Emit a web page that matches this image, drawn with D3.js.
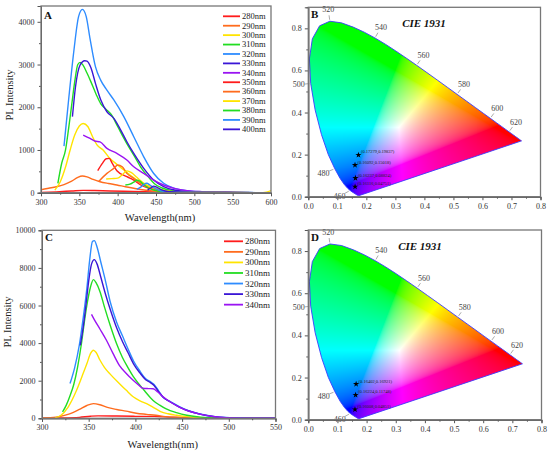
<!DOCTYPE html>
<html>
<head>
<meta charset="utf-8">
<script src="https://cdn.jsdelivr.net/npm/d3@7"></script>
<style>
  body { margin: 0; background: #fff; }
  svg { display: block; }
  text { font-family: "Liberation Serif", "Times New Roman", serif; }
</style>
</head>
<body>
<svg id="chart" width="550" height="454"></svg>
<script>
// ---- panel A : emission spectra, excitation 280..400 nm ----
const excA = ["280nm","290nm","300nm","310nm","320nm","330nm","340nm","350nm","360nm","370nm","380nm","390nm","400nm"];
const colA = ["#ff1c1c","#ff6c1e","#ffe400","#22dd22","#2e8cff","#3a16d6","#9a14f2","#ff1c1c","#ff6c1e","#ffe400","#22dd22","#2e8cff","#3a16d6"];
const A280 = [[300,5],[320,20],[340,40],[355,55],[370,50],[390,40],[420,30],[450,20],[480,10],[520,3],[600,0]];
const A290 = [[300,70],[310,105],[320,140],[330,190],[340,270],[348,360],[354,390],[360,370],[368,310],[377,257],[388,215],[399,180],[410,140],[421,103],[432,70],[443,47],[460,25],[490,8],[530,2],[600,0]];
const A300 = [[318,60],[325,250],[332,600],[338,1000],[344,1350],[350,1560],[355,1620],[361,1550],[367,1320],[373,1120],[381,1000],[390,800],[400,650],[408,530],[417,400],[425,297],[434,200],[443,140],[454,80],[465,47],[490,15],[520,5],[585,0],[594,12],[600,50]];
const A310 = [[322,220],[327,690],[332,1000],[336,1500],[340,2050],[344,2600],[348,3000],[351,3050],[355,2980],[360,2800],[365,2600],[372,2300],[378,2080],[385,1950],[392,1820],[400,1550],[412,1150],[422,850],[430,600],[440,370],[448,210],[458,110],[470,50],[500,12],[550,3],[600,0]];
const A320 = [[330,1090],[336,2170],[343,3340],[349,4120],[354,4290],[359,4120],[364,3600],[371,2950],[378,2630],[386,2400],[395,2170],[408,1780],[421,1310],[434,840],[447,450],[460,220],[474,100],[491,47],[510,22],[550,8],[600,0]];
const A330 = [[341,1780],[345,2480],[351,2990],[357,3090],[360,3080],[365,2930],[371,2560],[378,2170],[386,1895],[395,1740],[404,1466],[412,1193],[421,920],[434,570],[447,296],[460,140],[474,62],[500,20],[550,6],[600,0]];
const A340 = [[355,1350],[364,1270],[370,1210],[377,1190],[386,1037],[399,920],[412,764],[421,608],[434,452],[447,296],[460,180],[474,100],[491,47],[510,25],[550,8],[600,0]];
const A350 = [[374,515],[380,686],[385,795],[389,803],[393,686],[399,515],[412,375],[421,296],[430,180],[441,100],[452,62],[465,23],[490,8],[600,0]];
const A360 = [[375,257],[386,452],[395,569],[400,647],[406,608],[412,452],[421,335],[430,218],[441,125],[452,62],[465,23],[490,8],[600,0]];
const A370 = [[385,320],[392,330],[400,340],[406,420],[412,510],[418,470],[425,360],[432,250],[440,160],[450,95],[460,55],[480,20],[520,5],[600,0]];
const A380 = [[410,180],[416,200],[421,250],[425,290],[429,270],[434,190],[440,110],[447,60],[460,25],[490,8],[600,0]];
const A390 = [[425,80],[430,130],[434,190],[438,220],[442,180],[447,120],[452,70],[460,30],[480,10],[600,0]];
const A400 = [[439,60],[443,110],[447,155],[451,130],[456,80],[462,40],[475,15],[500,5],[600,0]];
const seriesA = [A280,A290,A300,A310,A320,A330,A340,A350,A360,A370,A380,A390,A400];

// ---- panel C : emission spectra, excitation 280..340 nm ----
const excC = ["280nm","290nm","300nm","310nm","320nm","330nm","340nm"];
const colC = ["#ff1c1c","#ff6c1e","#ffe400","#22dd22","#2e8cff","#3a16d6","#9a14f2"];
const C280 = [[300,5],[320,15],[340,50],[352,110],[360,130],[380,120],[400,105],[420,100],[440,60],[460,30],[480,15],[500,8],[550,0]];
const C290 = [[300,20],[315,60],[325,170],[333,300],[340,470],[348,680],[355,780],[362,720],[370,580],[380,470],[390,380],[401,270],[412,210],[422,160],[432,90],[445,40],[465,15],[500,5],[550,0]];
const C300 = [[314,20],[320,150],[328,600],[337,1490],[343,2250],[348,2900],[352,3450],[355,3620],[358,3500],[362,3100],[367,2700],[373,2350],[383,1840],[390,1500],[398,1130],[405,930],[412,780],[420,560],[427,360],[435,240],[444,160],[455,90],[469,35],[490,12],[520,3],[550,0]];
const C310 = [[322,340],[326,700],[330,1200],[334,1800],[338,2700],[342,3900],[345,5000],[348,6000],[352,7000],[355,7375],[358,7200],[362,6750],[367,5900],[373,4950],[380,3950],[386,3250],[392,2700],[398,2200],[405,1750],[410,1450],[419,950],[426,700],[433,500],[444,300],[455,160],[470,60],[490,20],[520,5],[550,0]];
const C320 = [[330,1850],[335,2700],[340,3900],[344,5300],[348,6900],[351,8400],[354,9400],[356,9450],[359,9100],[363,8300],[368,7300],[373,6200],[380,5100],[386,4400],[392,3700],[398,3050],[405,2500],[411,2100],[416,1950],[420,1800],[425,1450],[430,1100],[437,900],[447,620],[457,400],[469,230],[483,100],[497,40],[520,10],[550,0]];
const C330 = [[341,3880],[344,4800],[347,6000],[350,7300],[353,8200],[356,8440],[359,8200],[363,7500],[368,6600],[373,5800],[380,4800],[386,4100],[392,3500],[398,2900],[405,2400],[411,2050],[416,1900],[420,1750],[425,1400],[430,1100],[437,880],[447,600],[457,390],[469,220],[483,95],[497,35],[520,8],[550,0]];
const C340 = [[353,5530],[356,5250],[362,4750],[369,4150],[376,3450],[383,2800],[390,2400],[397,2050],[404,1750],[408,1600],[414,1580],[419,1570],[424,1400],[430,1130],[437,880],[447,600],[457,390],[469,220],[483,95],[497,35],[520,8],[550,0]];
const seriesC = [C280,C290,C300,C310,C320,C330,C340];

// ---- CIE 1931 spectral locus [nm, x, y] ----
const locus = [
  [380,0.1741,0.0050],[385,0.1740,0.0050],[390,0.1738,0.0049],[395,0.1736,0.0049],[400,0.1733,0.0048],
  [405,0.1730,0.0048],[410,0.1726,0.0048],[415,0.1721,0.0048],[420,0.1714,0.0051],[425,0.1703,0.0058],
  [430,0.1689,0.0069],[435,0.1669,0.0086],[440,0.1644,0.0109],[445,0.1611,0.0138],[450,0.1566,0.0177],
  [455,0.1510,0.0227],[460,0.1440,0.0297],[465,0.1355,0.0399],[470,0.1241,0.0578],[475,0.1096,0.0868],
  [480,0.0913,0.1327],[485,0.0687,0.2007],[490,0.0454,0.2950],[495,0.0235,0.4127],[500,0.0082,0.5384],
  [505,0.0039,0.6548],[510,0.0139,0.7502],[515,0.0389,0.8120],[520,0.0743,0.8338],[525,0.1142,0.8262],
  [530,0.1547,0.8059],[535,0.1929,0.7816],[540,0.2296,0.7543],[545,0.2658,0.7243],[550,0.3016,0.6923],
  [555,0.3373,0.6589],[560,0.3731,0.6245],[565,0.4087,0.5896],[570,0.4441,0.5547],[575,0.4788,0.5202],
  [580,0.5125,0.4866],[585,0.5448,0.4544],[590,0.5752,0.4242],[595,0.6029,0.3965],[600,0.6270,0.3725],
  [605,0.6482,0.3514],[610,0.6658,0.3340],[615,0.6801,0.3197],[620,0.6915,0.3083],[625,0.7006,0.2993],
  [630,0.7079,0.2920],[635,0.7140,0.2859],[640,0.7190,0.2809],[645,0.7230,0.2770],[650,0.7260,0.2740],
  [655,0.7283,0.2717],[660,0.7300,0.2700],[665,0.7311,0.2689],[670,0.7320,0.2680],[675,0.7327,0.2673],
  [680,0.7334,0.2666],[685,0.7340,0.2660],[690,0.7344,0.2656],[695,0.7346,0.2654],[700,0.7347,0.2653]
];
const locusMarks = [460,480,500,520,540,560,580,600,620];
const cieB = [[0.17279,0.19837],[0.16092,0.15018],[0.16237,0.08824],[0.16116,0.04751]];
const cieBLabels = ["(0.17279,0.19837)","(0.16092,0.15018)","(0.16237,0.08824)","(0.16116,0.04751)"];
const cieD = [[0.16402,0.16921],[0.16224,0.11748],[0.16008,0.04851]];
const cieDLabels = ["(0.16402,0.16921)","(0.16224,0.11748)","(0.16008,0.04851)"];

const svg = d3.select("#chart");
const defs = svg.append("defs");

function styleAxis(g) {
  g.selectAll(".domain").attr("stroke", "#555").attr("stroke-width", 1);
  g.selectAll(".tick line").attr("stroke", "#555");
  g.selectAll("text").attr("font-size", 8).attr("fill", "#333")
    .attr("font-family", '"Liberation Serif", serif');
}

function axes(x, y, xMajor, xMinor, yMajor, yMinor, xFmt, yFmt) {
  const by = y.range()[0], lx = x.range()[0];
  svg.append("g").attr("transform", `translate(0,${by})`)
    .call(d3.axisBottom(x).tickValues(xMinor).tickSize(2).tickFormat("")).call(styleAxis);
  svg.append("g").attr("transform", `translate(0,${by})`)
    .call(d3.axisBottom(x).tickValues(xMajor).tickSize(3.5).tickPadding(3).tickFormat(xFmt)).call(styleAxis);
  svg.append("g").attr("transform", `translate(${lx},0)`)
    .call(d3.axisLeft(y).tickValues(yMinor).tickSize(2).tickFormat("")).call(styleAxis);
  svg.append("g").attr("transform", `translate(${lx},0)`)
    .call(d3.axisLeft(y).tickValues(yMajor).tickSize(3.5).tickPadding(3).tickFormat(yFmt)).call(styleAxis);
}

function frame(x, y) {
  svg.append("rect")
    .attr("x", x.range()[0]).attr("y", y.range()[1])
    .attr("width", x.range()[1] - x.range()[0]).attr("height", y.range()[0] - y.range()[1])
    .attr("fill", "none").attr("stroke", "#777").attr("stroke-width", 1.3);
}

function letter(t, px, py) {
  svg.append("text").attr("x", px).attr("y", py).attr("font-size", 11).attr("font-weight", "bold")
    .attr("fill", "#111").text(t);
}

function spectra(id, x, y, series, cols, labels, leg, xMajor, xMinor, yMajor, yMinor, titles) {
  defs.append("clipPath").attr("id", id).append("rect")
    .attr("x", x.range()[0]).attr("y", y.range()[1])
    .attr("width", x.range()[1] - x.range()[0]).attr("height", y.range()[0] - y.range()[1]);
  const line = d3.line().x(d => x(d[0])).y(d => y(d[1])).curve(d3.curveMonotoneX);
  const g = svg.append("g").attr("clip-path", `url(#${id})`);
  g.selectAll("path").data(series).join("path")
    .attr("d", line).attr("fill", "none")
    .attr("stroke", (d, i) => cols[i]).attr("stroke-width", 1.4);
  axes(x, y, xMajor, xMinor, yMajor, yMinor, d3.format("d"), d3.format("d"));
  frame(x, y);
  const lg = svg.append("g");
  labels.forEach((t, i) => {
    const yy = leg.y + i * leg.dy;
    lg.append("line").attr("x1", leg.x).attr("x2", leg.x + leg.len).attr("y1", yy).attr("y2", yy)
      .attr("stroke", cols[i]).attr("stroke-width", 1.8);
    lg.append("text").attr("x", leg.x + leg.len + 2).attr("y", yy).attr("dy", "0.33em")
      .attr("font-size", leg.fs).attr("fill", "#222").text(t);
  });
  svg.append("text").attr("transform", `translate(${titles.yx},${titles.yy}) rotate(-90)`)
    .attr("text-anchor", "middle").attr("font-size", 10.5).attr("fill", "#222").text("PL Intensity");
  svg.append("text").attr("x", (x.range()[0] + x.range()[1]) / 2 + 4).attr("y", titles.xy)
    .attr("text-anchor", "middle").attr("font-size", 10.5).attr("fill", "#222").text("Wavelength(nm)");
}

function srgb(v) {
  return v <= 0.0031308 ? 12.92 * v : 1.055 * Math.pow(v, 1 / 2.4) - 0.055;
}

function cie(id, x, y, pts, ptLabels, title) {
  const pxLocus = locus.map(d => [x(d[1]), y(d[2])]);
  const path = d3.line()(pxLocus) + "Z";
  defs.append("clipPath").attr("id", id).append("path").attr("d", path);

  // colour fill, computed from xy chromaticity through the scales
  const x0 = x.range()[0], x1 = x.range()[1], y0 = y.range()[1], y1 = y.range()[0];
  const k = 2, w = Math.ceil((x1 - x0) * k), h = Math.ceil((y1 - y0) * k);
  const canvas = document.createElement("canvas");
  canvas.width = w; canvas.height = h;
  const ctx = canvas.getContext("2d");
  const img = ctx.createImageData(w, h);
  for (let j = 0; j < h; j++) {
    const cy = y.invert(y0 + (j + 0.5) / k);
    for (let i = 0; i < w; i++) {
      const cx = x.invert(x0 + (i + 0.5) / k);
      const o = (j * w + i) * 4;
      if (cy <= 0.002) { img.data[o + 3] = 0; continue; }
      const X = cx / cy, Y = 1, Z = (1 - cx - cy) / cy;
      let r = 3.2406 * X - 1.5372 * Y - 0.4986 * Z;
      let g = -0.9689 * X + 1.8758 * Y + 0.0415 * Z;
      let b = 0.0557 * X - 0.2040 * Y + 1.0570 * Z;
      r = Math.max(r, 0); g = Math.max(g, 0); b = Math.max(b, 0);
      const m = Math.max(r, g, b) || 1;
      img.data[o] = Math.round(255 * srgb(r / m));
      img.data[o + 1] = Math.round(255 * srgb(g / m));
      img.data[o + 2] = Math.round(255 * srgb(b / m));
      img.data[o + 3] = 255;
    }
  }
  ctx.putImageData(img, 0, 0);
  svg.append("image").attr("href", canvas.toDataURL())
    .attr("x", x0).attr("y", y0).attr("width", w / k).attr("height", h / k)
    .attr("preserveAspectRatio", "none").attr("clip-path", `url(#${id})`);
  svg.append("path").attr("d", path).attr("fill", "none").attr("stroke", "#3b3bff").attr("stroke-width", 0.9);

  // wavelength marks on the locus, pointing outward
  const wp = [x(0.333), y(0.333)];
  locusMarks.forEach(nm => {
    const i = locus.findIndex(d => d[0] === nm);
    const p = pxLocus[i], a = pxLocus[i - 1], b = pxLocus[i + 1];
    let nx = b[1] - a[1], ny = -(b[0] - a[0]);
    let len = Math.hypot(nx, ny); nx /= len; ny /= len;
    if (nx * (p[0] - wp[0]) + ny * (p[1] - wp[1]) < 0) { nx = -nx; ny = -ny; }
    ny = Math.min(ny, 0.35);
    len = Math.hypot(nx, ny); nx /= len; ny /= len;
    svg.append("line").attr("x1", p[0] + nx * 1.5).attr("y1", p[1] + ny * 1.5)
      .attr("x2", p[0] + nx * 6).attr("y2", p[1] + ny * 6).attr("stroke", "#888").attr("stroke-width", 0.7);
    svg.append("text").attr("x", p[0] + nx * 12).attr("y", p[1] + ny * 12).attr("dy", "0.33em")
      .attr("text-anchor", "middle").attr("font-size", 8).attr("fill", "#444").text(nm);
  });

  const star = d3.symbol(d3.symbolStar, 12);
  svg.selectAll(null).data(pts).join("path")
    .attr("d", star).attr("fill", "#000")
    .attr("transform", d => `translate(${x(d[0])},${y(d[1])})`);
  svg.selectAll(null).data(pts).join("text")
    .attr("x", d => x(d[0]) + 2.5).attr("y", d => y(d[1]) - 1.5)
    .attr("font-size", 4.5).attr("fill", "#222").text((d, i) => ptLabels[i]);

  const fmt = d3.format(".1f");
  axes(x, y, d3.range(0, 0.81, 0.1), d3.range(0.05, 0.8, 0.1),
       [0, 0.2, 0.4, 0.6, 0.8], [0.1, 0.3, 0.5, 0.7], fmt, fmt);
  frame(x, y);
  svg.append("text").attr("x", title.x).attr("y", title.y).attr("text-anchor", "middle")
    .attr("font-size", 11).attr("font-weight", "bold").attr("font-style", "italic")
    .attr("fill", "#111").text("CIE 1931");
}

// A
const xA = d3.scaleLinear([300, 600], [41, 271]);
const yA = d3.scaleLinear([0, 4370], [192.7, 6]);
spectra("clipA", xA, yA, seriesA, colA, excA, { x: 223, y: 16.3, dy: 9.42, len: 17, fs: 8.5 },
  d3.range(300, 601, 50), d3.range(325, 600, 50), d3.range(0, 4001, 1000), d3.range(500, 4370, 1000),
  { yx: 13, yy: 95, xy: 221 });
letter("A", 44, 19);

// C
const xC = d3.scaleLinear([300, 550], [42, 275.5]);
const yC = d3.scaleLinear([0, 10000], [418.3, 230.3]);
spectra("clipC", xC, yC, seriesC, colC, excC, { x: 224, y: 241.3, dy: 10.56, len: 19, fs: 9 },
  d3.range(300, 551, 50), d3.range(325, 550, 50), d3.range(0, 10001, 2000), d3.range(1000, 10000, 2000),
  { yx: 11, yy: 322, xy: 448 });
letter("C", 45, 241);

// B
const xB = d3.scaleLinear([0, 0.8], [308.3, 540.5]);
const yB = d3.scaleLinear([0, 0.9], [196.7, 7.3]);
cie("clipB", xB, yB, cieB, cieBLabels, { x: 424, y: 27 });
letter("B", 311, 18);

// D
const xD = d3.scaleLinear([0, 0.8], [308.3, 541.5]);
const yD = d3.scaleLinear([0, 0.9], [419.7, 230]);
cie("clipD", xD, yD, cieD, cieDLabels, { x: 420, y: 250 });
letter("D", 311, 241);
</script>
</body>
</html>
